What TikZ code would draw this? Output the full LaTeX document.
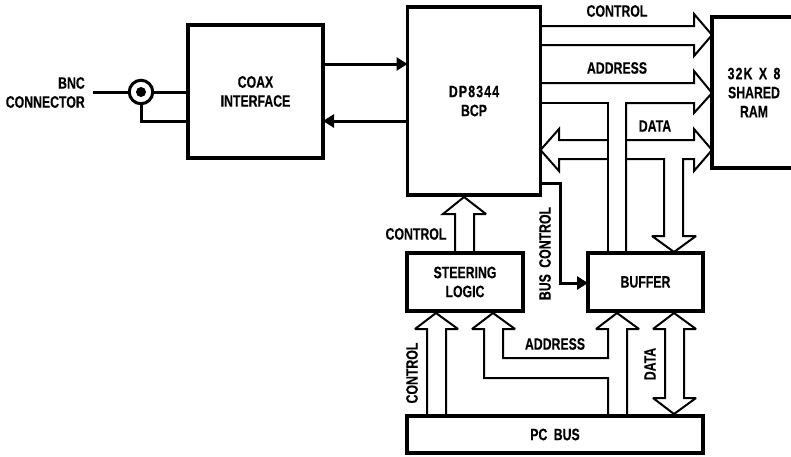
\documentclass[tikz,border=0pt]{standalone}
\usepackage{fontspec}
\setmainfont[FakeStretch=0.745,FakeBold=0.2]{Liberation Sans Bold}
\newcommand{\wider}[1]{{\addfontfeature{LetterSpace=7}#1}}
\usetikzlibrary{arrows.meta}
\tikzset{
  x=1pt,y=-1pt,
  blockbox/.style={draw=black,line width=3.4pt,fill=white,outer sep=0pt,inner sep=0pt,align=center,font=\fontsize{16.5}{19}\selectfont},
  lab/.style={inner sep=0pt,align=center,font=\fontsize{16.5}{19}\selectfont},
  hollow/.style={draw=black,line width=2pt,line join=miter,miter limit=3},
  wire/.style={draw=black,line width=3pt,line join=miter},
  solidhead/.style={-{Triangle[length=11pt,width=13pt]}},
}
\begin{document}
\begin{tikzpicture}
\useasboundingbox (0,0) rectangle (791,456);
\clip (0,0) rectangle (791,456);
% blocks
\node[blockbox,minimum width=135pt,minimum height=133pt] (coax) at (255.5,91.5) {COAX\\INTERFACE};
\node[blockbox,minimum width=133pt,minimum height=188pt] (bcp) at (474,101) {\wider{DP8344}\\BCP};
\node[blockbox,minimum width=84pt,minimum height=151pt] (ram) at (754,92.5) {\wider{32K}\hspace{3pt} X\hspace{3pt} 8\\SHARED\\RAM};
\node[blockbox,minimum width=116pt,minimum height=58pt] (steer) at (465,282) {STEERING\\LOGIC};
\node[blockbox,minimum width=115pt,minimum height=58pt] (buf) at (645.5,282) {\raisebox{-1pt}{BUFFER}};
\node[blockbox,minimum width=296pt,minimum height=37pt] (pc) at (555,434.5) {\raisebox{-1.5pt}{PC\hspace{3pt} BUS}};
% connector
\node[lab,align=right,anchor=east] (bnc) at (85,92.5) {BNC\\CONNECTOR};
\coordinate (bncend) at (93,92);
\node[circle,draw=black,line width=3pt,minimum size=23.5pt,inner sep=0pt,outer sep=0pt] (jack) at (141,92) {};
\node[circle,fill=black,minimum size=10pt,inner sep=0pt] (pin) at (jack.center) {};
\draw[wire] (bncend) -- (jack.west);
\draw[wire] (jack.east) -- (coax.west |- jack.east);
\draw[wire] (jack.south) |- (coax.west |- 0,121);
% coax <-> bcp
\draw[wire,solidhead] (coax.east |- 0,64) -- (bcp.west |- 0,64);
\draw[wire,solidhead] (bcp.west |- 0,121) -- (coax.east |- 0,121);
% top buses
\draw[hollow] (bcp.east |- 0,26) -- (694,26) -- (694,14) -- (ram.west |- 0,35) -- (694,56) -- (694,45) -- (bcp.east |- 0,45);
\node[lab] (lc) at (617,11) {CONTROL};
\draw[hollow] (bcp.east |- 0,83) -- (694,83) -- (694,71) -- (ram.west |- 0,93) -- (694,113) -- (694,103) -- (626,103) -- (626,253);
\draw[hollow] (bcp.east |- 0,103) -- (608,103) -- (608,253);
\node[lab] (la) at (617,68) {ADDRESS};
% data bus
\draw[hollow] (608,140) -- (559,140) -- (559,129) -- (bcp.east |- 0,150) -- (559,171) -- (559,159) -- (608,159);
\draw[hollow] (626,140) -- (694,140) -- (694,129) -- (ram.west |- 0,150) -- (694,171) -- (694,159) -- (683,159) -- (683,236) -- (696,236) -- (674,252) -- (652,236) -- (664,236) -- (664,159) -- (626,159);
\node[lab] (ld) at (655,126) {DATA};
% bus control
\draw[wire,solidhead] (bcp.east |- 0,183) -| (560,283) -- (buf.west |- 0,283);
\node[lab,rotate=90] (lbc) at (545,253.5) {BUS\hspace{3pt} CONTROL};
% steering to bcp
\draw[hollow] (455,253) -- (455,214) -- (443,214) -- (464,197) -- (486,214) -- (474,214) -- (474,253);
\node[lab] (lc2) at (416,234) {CONTROL};
% bottom arrows
\draw[hollow] (427,416) -- (427,329) -- (415,329) -- (436,313) -- (458,329) -- (446,329) -- (446,416);
\draw[hollow] (608,416) -- (608,378) -- (484,378) -- (484,329) -- (472,329) -- (493,313) -- (515,329) -- (503,329) -- (503,358) -- (608,358) -- (608,329) -- (596,329) -- (617,313) -- (639,329) -- (627,329) -- (627,416);
\draw[hollow] (665,398) -- (665,329) -- (653,329) -- (674,313) -- (696,329) -- (684,329) -- (684,398) -- (696,398) -- (674,414) -- (653,398) -- cycle;
\node[lab,rotate=90] (lc4) at (412,373) {CONTROL};
\node[lab] (la2) at (555,344) {ADDRESS};
\node[lab,rotate=90] (ld2) at (650,364) {DATA};
\end{tikzpicture}
\end{document}
